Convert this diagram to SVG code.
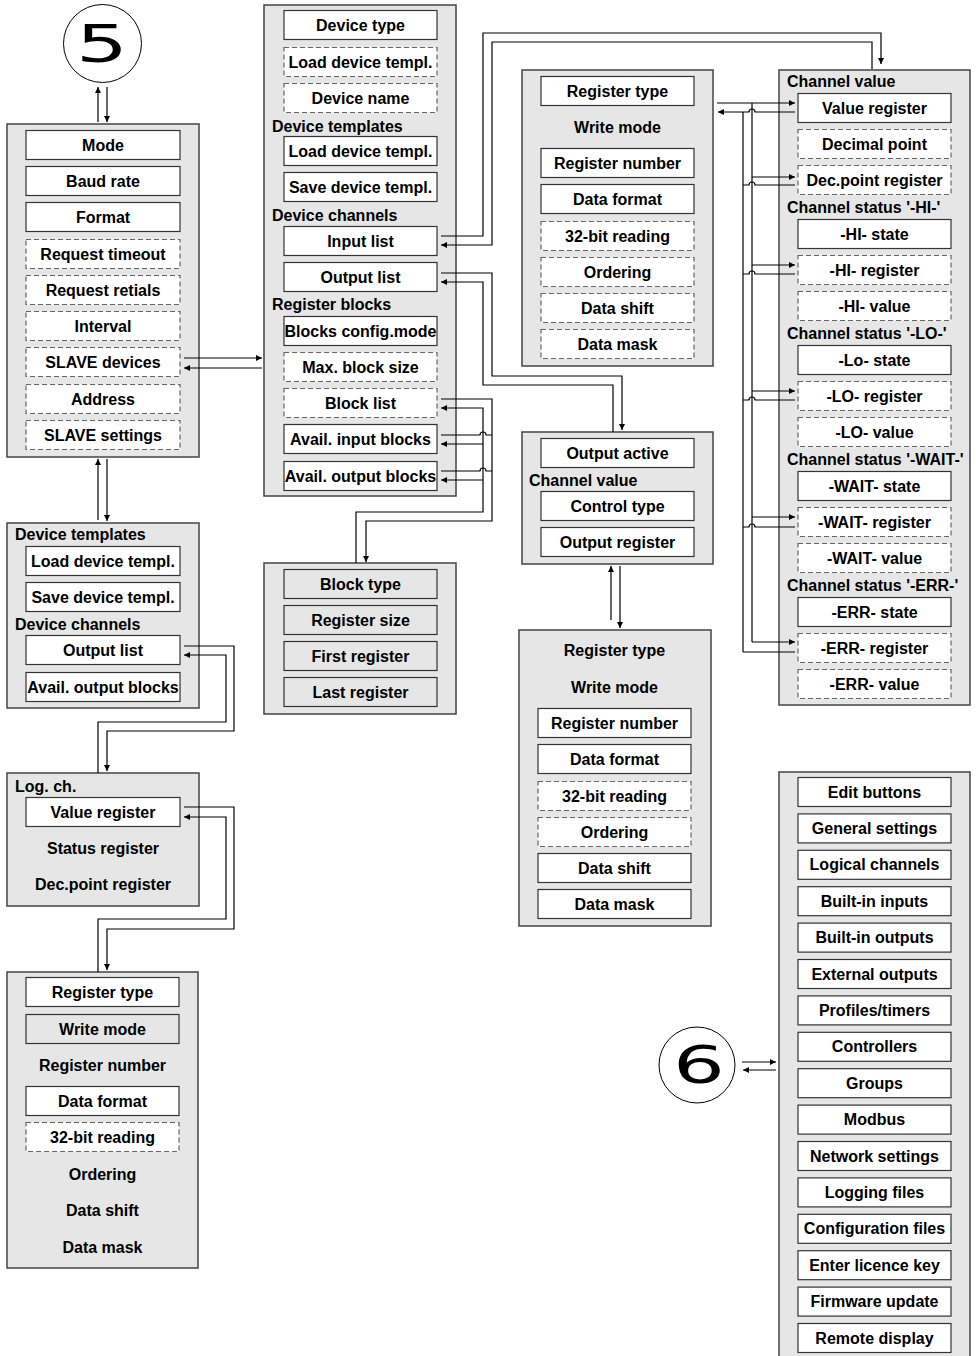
<svg xmlns="http://www.w3.org/2000/svg" width="976" height="1356" viewBox="0 0 976 1356">
<defs>
<style>
.pn{fill:#e6e6e6;stroke:#444;stroke-width:1.5}
.bs{fill:#fff;stroke:#333;stroke-width:1.2}
.bd{fill:#fff;stroke:#666;stroke-width:1.2;stroke-dasharray:5,3}
.bg{fill:#e6e6e6;stroke:#333;stroke-width:1.2}
text{font-family:"Liberation Sans",Arial,sans-serif;font-weight:bold;font-size:16px;fill:#000}
.c{text-anchor:middle}
.big{font-family:"DejaVu Sans",sans-serif;font-weight:normal;font-size:51px;text-anchor:middle}
.ln{fill:none;stroke:#000;stroke-width:1.2}
.ar{marker-end:url(#ah)}
</style>
<marker id="ah" viewBox="0 0 10 10" refX="10" refY="5" markerWidth="9" markerHeight="6" markerUnits="userSpaceOnUse" orient="auto"><path d="M0,0 L10,5 L0,10 z" fill="#000"/></marker>
</defs>

<g id="circle5">
<circle cx="102.5" cy="43.5" r="39" fill="#fff" stroke="#000" stroke-width="1"/>
<text class="big" transform="translate(102,62) scale(1.6,1)">5</text>
</g>

<g id="circle6">
<circle cx="697" cy="1065" r="38" fill="#fff" stroke="#000" stroke-width="1"/>
<text class="big" transform="translate(699,1083) scale(1.6,1)">6</text>
</g>

<g id="panel-mode">
<rect class="pn" x="7" y="124" width="192" height="333"/>
<rect class="bs" x="26" y="130.5" width="154" height="29"/><text class="c" x="103" y="150.5">Mode</text>
<rect class="bs" x="26" y="166.5" width="154" height="29"/><text class="c" x="103" y="186.5">Baud rate</text>
<rect class="bs" x="26" y="202.5" width="154" height="29"/><text class="c" x="103" y="222.5">Format</text>
<rect class="bd" x="26" y="239.5" width="154" height="29"/><text class="c" x="103" y="259.5">Request timeout</text>
<rect class="bd" x="26" y="275.5" width="154" height="29"/><text class="c" x="103" y="295.5">Request retials</text>
<rect class="bd" x="26" y="311.5" width="154" height="29"/><text class="c" x="103" y="331.5">Interval</text>
<rect class="bd" x="26" y="347.5" width="154" height="29"/><text class="c" x="103" y="367.5">SLAVE devices</text>
<rect class="bd" x="26" y="384.5" width="154" height="29"/><text class="c" x="103" y="404.5">Address</text>
<rect class="bd" x="26" y="420.5" width="154" height="29"/><text class="c" x="103" y="440.5">SLAVE settings</text>
</g>

<g id="panel-device">
<rect class="pn" x="264" y="5" width="192" height="491"/>
<rect class="bs" x="284" y="10.5" width="153" height="29"/><text class="c" x="360.5" y="30.5">Device type</text>
<rect class="bd" x="284" y="47.5" width="153" height="29"/><text class="c" x="360.5" y="67.5">Load device templ.</text>
<rect class="bd" x="284" y="83.5" width="153" height="29"/><text class="c" x="360.5" y="103.5">Device name</text>
<text x="272" y="131.5">Device templates</text>
<rect class="bs" x="284" y="136.5" width="153" height="29"/><text class="c" x="360.5" y="156.5">Load device templ.</text>
<rect class="bs" x="284" y="172.5" width="153" height="29"/><text class="c" x="360.5" y="192.5">Save device templ.</text>
<text x="272" y="220.5">Device channels</text>
<rect class="bs" x="284" y="226.5" width="153" height="29"/><text class="c" x="360.5" y="246.5">Input list</text>
<rect class="bs" x="284" y="262.5" width="153" height="29"/><text class="c" x="360.5" y="282.5">Output list</text>
<text x="272" y="309.5">Register blocks</text>
<rect class="bs" x="284" y="316.5" width="153" height="29"/><text class="c" x="360.5" y="336.5">Blocks config.mode</text>
<rect class="bd" x="284" y="352.5" width="153" height="29"/><text class="c" x="360.5" y="372.5">Max. block size</text>
<rect class="bd" x="284" y="388.5" width="153" height="29"/><text class="c" x="360.5" y="408.5">Block list</text>
<rect class="bs" x="284" y="424.5" width="153" height="29"/><text class="c" x="360.5" y="444.5">Avail. input blocks</text>
<rect class="bs" x="284" y="461.5" width="153" height="29"/><text class="c" x="360.5" y="481.5">Avail. output blocks</text>
</g>

<g id="panel-register-in">
<rect class="pn" x="522" y="70" width="191" height="296"/>
<rect class="bs" x="541" y="76.5" width="153" height="29"/><text class="c" x="617.5" y="96.5">Register type</text>
<text class="c" x="617.5" y="132.5">Write mode</text>
<rect class="bs" x="541" y="148.5" width="153" height="29"/><text class="c" x="617.5" y="168.5">Register number</text>
<rect class="bs" x="541" y="184.5" width="153" height="29"/><text class="c" x="617.5" y="204.5">Data format</text>
<rect class="bd" x="541" y="221.5" width="153" height="29"/><text class="c" x="617.5" y="241.5">32-bit reading</text>
<rect class="bd" x="541" y="257.5" width="153" height="29"/><text class="c" x="617.5" y="277.5">Ordering</text>
<rect class="bd" x="541" y="293.5" width="153" height="29"/><text class="c" x="617.5" y="313.5">Data shift</text>
<rect class="bd" x="541" y="329.5" width="153" height="29"/><text class="c" x="617.5" y="349.5">Data mask</text>
</g>

<g id="panel-output">
<rect class="pn" x="522" y="432" width="191" height="132"/>
<rect class="bs" x="541" y="438.5" width="153" height="29"/><text class="c" x="617.5" y="458.5">Output active</text>
<text x="529" y="485.5">Channel value</text>
<rect class="bs" x="541" y="491.5" width="153" height="29"/><text class="c" x="617.5" y="511.5">Control type</text>
<rect class="bs" x="541" y="527.5" width="153" height="29"/><text class="c" x="617.5" y="547.5">Output register</text>
</g>

<g id="panel-register-out">
<rect class="pn" x="519" y="630" width="192" height="296"/>
<text class="c" x="614.5" y="655.5">Register type</text>
<text class="c" x="614.5" y="692.5">Write mode</text>
<rect class="bs" x="538" y="708.5" width="153" height="29"/><text class="c" x="614.5" y="728.5">Register number</text>
<rect class="bs" x="538" y="744.5" width="153" height="29"/><text class="c" x="614.5" y="764.5">Data format</text>
<rect class="bd" x="538" y="781.5" width="153" height="29"/><text class="c" x="614.5" y="801.5">32-bit reading</text>
<rect class="bd" x="538" y="817.5" width="153" height="29"/><text class="c" x="614.5" y="837.5">Ordering</text>
<rect class="bs" x="538" y="853.5" width="153" height="29"/><text class="c" x="614.5" y="873.5">Data shift</text>
<rect class="bs" x="538" y="889.5" width="153" height="29"/><text class="c" x="614.5" y="909.5">Data mask</text>
</g>

<g id="panel-channel">
<rect class="pn" x="779" y="70" width="191" height="635"/>
<text x="787" y="86.5">Channel value</text>
<rect class="bs" x="798" y="93.5" width="153" height="29"/><text class="c" x="874.5" y="113.5">Value register</text>
<rect class="bd" x="798" y="129.5" width="153" height="29"/><text class="c" x="874.5" y="149.5">Decimal point</text>
<rect class="bd" x="798" y="165.5" width="153" height="29"/><text class="c" x="874.5" y="185.5">Dec.point register</text>
<text x="787" y="212.5">Channel status '-HI-'</text>
<rect class="bs" x="798" y="219.5" width="153" height="29"/><text class="c" x="874.5" y="239.5">-HI- state</text>
<rect class="bd" x="798" y="255.5" width="153" height="29"/><text class="c" x="874.5" y="275.5">-HI- register</text>
<rect class="bd" x="798" y="291.5" width="153" height="29"/><text class="c" x="874.5" y="311.5">-HI- value</text>
<text x="787" y="338.5">Channel status '-LO-'</text>
<rect class="bs" x="798" y="345.5" width="153" height="29"/><text class="c" x="874.5" y="365.5">-Lo- state</text>
<rect class="bd" x="798" y="381.5" width="153" height="29"/><text class="c" x="874.5" y="401.5">-LO- register</text>
<rect class="bd" x="798" y="417.5" width="153" height="29"/><text class="c" x="874.5" y="437.5">-LO- value</text>
<text x="787" y="464.5">Channel status '-WAIT-'</text>
<rect class="bs" x="798" y="471.5" width="153" height="29"/><text class="c" x="874.5" y="491.5">-WAIT- state</text>
<rect class="bd" x="798" y="507.5" width="153" height="29"/><text class="c" x="874.5" y="527.5">-WAIT- register</text>
<rect class="bd" x="798" y="543.5" width="153" height="29"/><text class="c" x="874.5" y="563.5">-WAIT- value</text>
<text x="787" y="590.5">Channel status '-ERR-'</text>
<rect class="bs" x="798" y="597.5" width="153" height="29"/><text class="c" x="874.5" y="617.5">-ERR- state</text>
<rect class="bd" x="798" y="633.5" width="153" height="29"/><text class="c" x="874.5" y="653.5">-ERR- register</text>
<rect class="bd" x="798" y="669.5" width="153" height="29"/><text class="c" x="874.5" y="689.5">-ERR- value</text>
</g>

<g id="panel-block">
<rect class="pn" x="264" y="563" width="192" height="151"/>
<rect class="bg" x="284" y="569.5" width="153" height="29"/><text class="c" x="360.5" y="589.5">Block type</text>
<rect class="bg" x="284" y="605.5" width="153" height="29"/><text class="c" x="360.5" y="625.5">Register size</text>
<rect class="bg" x="284" y="641.5" width="153" height="29"/><text class="c" x="360.5" y="661.5">First register</text>
<rect class="bg" x="284" y="677.5" width="153" height="29"/><text class="c" x="360.5" y="697.5">Last register</text>
</g>

<g id="panel-templates">
<rect class="pn" x="7" y="523" width="192" height="185"/>
<text x="15" y="539.5">Device templates</text>
<rect class="bs" x="26" y="546.5" width="154" height="29"/><text class="c" x="103" y="566.5">Load device templ.</text>
<rect class="bs" x="26" y="582.5" width="154" height="29"/><text class="c" x="103" y="602.5">Save device templ.</text>
<text x="15" y="629.5">Device channels</text>
<rect class="bs" x="26" y="635.5" width="154" height="29"/><text class="c" x="103" y="655.5">Output list</text>
<rect class="bs" x="26" y="672.5" width="154" height="29"/><text class="c" x="103" y="692.5">Avail. output blocks</text>
</g>

<g id="panel-logch">
<rect class="pn" x="7" y="773" width="192" height="133"/>
<text x="15" y="791.5">Log. ch.</text>
<rect class="bs" x="26" y="797.5" width="154" height="29"/><text class="c" x="103" y="817.5">Value register</text>
<text class="c" x="103" y="853.5">Status register</text>
<text class="c" x="103" y="889.5">Dec.point register</text>
</g>

<g id="panel-logreg">
<rect class="pn" x="7" y="972" width="191" height="296"/>
<rect class="bs" x="26" y="977.5" width="153" height="29"/><text class="c" x="102.5" y="997.5">Register type</text>
<rect class="bg" x="26" y="1014.5" width="153" height="29"/><text class="c" x="102.5" y="1034.5">Write mode</text>
<text class="c" x="102.5" y="1070.5">Register number</text>
<rect class="bs" x="26" y="1086.5" width="153" height="29"/><text class="c" x="102.5" y="1106.5">Data format</text>
<rect class="bd" x="26" y="1122.5" width="153" height="29"/><text class="c" x="102.5" y="1142.5">32-bit reading</text>
<text class="c" x="102.5" y="1179.5">Ordering</text>
<text class="c" x="102.5" y="1215.5">Data shift</text>
<text class="c" x="102.5" y="1252.5">Data mask</text>
</g>

<g id="panel-menu">
<rect class="pn" x="779" y="772" width="191" height="590"/>
<rect class="bs" x="798" y="777.5" width="153" height="29"/><text class="c" x="874.5" y="797.5">Edit buttons</text>
<rect class="bs" x="798" y="813.9" width="153" height="29"/><text class="c" x="874.5" y="833.9">General settings</text>
<rect class="bs" x="798" y="850.3" width="153" height="29"/><text class="c" x="874.5" y="870.3">Logical channels</text>
<rect class="bs" x="798" y="886.7" width="153" height="29"/><text class="c" x="874.5" y="906.7">Built-in inputs</text>
<rect class="bs" x="798" y="923.1" width="153" height="29"/><text class="c" x="874.5" y="943.1">Built-in outputs</text>
<rect class="bs" x="798" y="959.5" width="153" height="29"/><text class="c" x="874.5" y="979.5">External outputs</text>
<rect class="bs" x="798" y="995.9" width="153" height="29"/><text class="c" x="874.5" y="1015.9">Profiles/timers</text>
<rect class="bs" x="798" y="1032.3" width="153" height="29"/><text class="c" x="874.5" y="1052.3">Controllers</text>
<rect class="bs" x="798" y="1068.7" width="153" height="29"/><text class="c" x="874.5" y="1088.7">Groups</text>
<rect class="bs" x="798" y="1105.1" width="153" height="29"/><text class="c" x="874.5" y="1125.1">Modbus</text>
<rect class="bs" x="798" y="1141.5" width="153" height="29"/><text class="c" x="874.5" y="1161.5">Network settings</text>
<rect class="bs" x="798" y="1177.9" width="153" height="29"/><text class="c" x="874.5" y="1197.9">Logging files</text>
<rect class="bs" x="798" y="1214.3" width="153" height="29"/><text class="c" x="874.5" y="1234.3">Configuration files</text>
<rect class="bs" x="798" y="1250.7" width="153" height="29"/><text class="c" x="874.5" y="1270.7">Enter licence key</text>
<rect class="bs" x="798" y="1287.1" width="153" height="29"/><text class="c" x="874.5" y="1307.1">Firmware update</text>
<rect class="bs" x="798" y="1323.5" width="153" height="29"/><text class="c" x="874.5" y="1343.5">Remote display</text>
</g>

<g id="connectors">
<path class="ln ar" d="M98,122 L98,87"/>
<path class="ln ar" d="M107,87 L107,122"/>
<path class="ln ar" d="M98,520 L98,459"/>
<path class="ln ar" d="M107,459 L107,521"/>
<path class="ln ar" d="M184,358 L262,358"/>
<path class="ln ar" d="M262,368 L184,368"/>

<path class="ln ar" d="M441,236 L483,236 L483,33 L881,33 L881,64"/>
<path class="ln ar" d="M872,69 L872,42 L492,42 L492,245 L441,245"/>

<path class="ln ar" d="M441,273 L492,273 L492,376 L622,376 L622,430"/>
<path class="ln ar" d="M613,432 L613,385 L483,385 L483,282 L441,282"/>

<path class="ln ar" d="M441,399 L492,399 L492,521 L366,521 L366,562"/>
<path class="ln ar" d="M356,563 L356,512 L483,512 L483,408 L441,408"/>
<path class="ln" d="M441,435 L480,435 A3,3 0 0 1 486,435 L492,435"/>
<path class="ln ar" d="M483,444 L441,444"/>
<path class="ln" d="M441,471 L480,471 A3,3 0 0 1 486,471 L492,471"/>
<path class="ln ar" d="M483,480 L441,480"/>

<path class="ln ar" d="M717,103 L795,103"/>
<path class="ln ar" d="M795,112 L755,112 A3,3 0 0 0 749,112 L718,112"/>
<path class="ln" d="M752,103 L752,642"/>
<path class="ln" d="M743,112 L743,652"/>
<path class="ln ar" d="M752,177 L795,177"/>
<path class="ln" d="M795,185 L755,185 A3,3 0 0 0 749,185 L743,185"/>
<path class="ln ar" d="M752,265 L795,265"/>
<path class="ln" d="M795,274 L755,274 A3,3 0 0 0 749,274 L743,274"/>
<path class="ln ar" d="M752,391 L795,391"/>
<path class="ln" d="M795,400 L755,400 A3,3 0 0 0 749,400 L743,400"/>
<path class="ln ar" d="M752,517 L795,517"/>
<path class="ln" d="M795,527 L755,527 A3,3 0 0 0 749,527 L743,527"/>
<path class="ln ar" d="M752,642 L795,642"/>
<path class="ln" d="M795,652 L743,652"/>

<path class="ln ar" d="M611,620 L611,566"/>
<path class="ln ar" d="M620,566 L620,628"/>

<path class="ln ar" d="M184,646 L234,646 L234,731 L107,731 L107,771"/>
<path class="ln ar" d="M98,773 L98,722 L226,722 L226,655 L184,655"/>
<path class="ln ar" d="M184,807 L234,807 L234,929 L107,929 L107,970"/>
<path class="ln ar" d="M98,972 L98,919 L226,919 L226,817 L184,817"/>

<path class="ln ar" d="M742,1062 L776,1062"/>
<path class="ln ar" d="M776,1070 L743,1070"/>
</g>
</svg>
